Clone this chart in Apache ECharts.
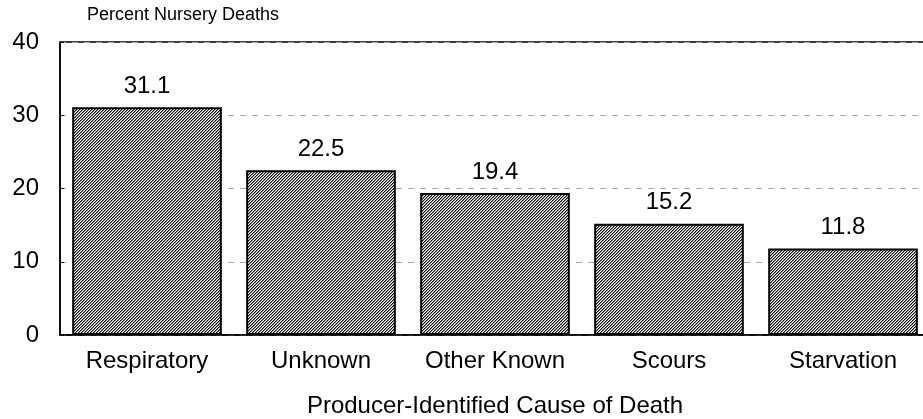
<!DOCTYPE html>
<html>
<head>
<meta charset="utf-8">
<script src="https://cdn.jsdelivr.net/npm/echarts@6/dist/echarts.min.js"></script>
<style>
  html, body { margin: 0; padding: 0; background: #fff; }
  #chart { width: 923px; height: 419px; }
</style>
</head>
<body>
<div id="chart"></div>
<script>
var categories = ['Respiratory', 'Unknown', 'Other Known', 'Scours', 'Starvation'];
var deathPercent = [31.1, 22.5, 19.4, 15.2, 11.8];
var yTicks = [0, 10, 20, 30, 40];

(function() {
  var font = "'Liberation Sans', Arial, sans-serif";

  // diagonal hatch tile, like the printed fill
  var tile = document.createElement('canvas');
  tile.width = 3;
  tile.height = 3;
  var ctx = tile.getContext('2d');
  ctx.fillStyle = '#fff';
  ctx.fillRect(0, 0, 3, 3);
  ctx.fillStyle = '#111';
  ctx.fillRect(0, 2, 1, 1);
  ctx.fillRect(1, 1, 1, 1);
  ctx.fillRect(2, 0, 1, 1);
  ctx.fillStyle = '#8a8a8a';
  ctx.fillRect(0, 0, 1, 1);
  ctx.fillRect(1, 2, 1, 1);
  ctx.fillRect(2, 1, 1, 1);

  var chart = echarts.init(document.getElementById('chart'), null, { renderer: 'canvas' });
  chart.setOption({
    animation: false,
    textStyle: { fontFamily: font },
    title: {
      text: 'Percent Nursery Deaths',
      left: 87,
      top: 6,
      padding: 0,
      textStyle: { fontFamily: font, fontSize: 18, fontWeight: 'normal', color: '#000' }
    },
    grid: {
      left: 60,
      top: 42,
      width: 870,
      bottom: 84,
      outerBoundsMode: 'none',
      containLabel: false,
      show: true,
      borderColor: '#000',
      borderWidth: 1.5
    },
    xAxis: {
      type: 'category',
      data: categories,
      name: 'Producer-Identified Cause of Death',
      nameLocation: 'middle',
      nameGap: 59,
      nameTextStyle: { fontFamily: font, fontSize: 24, color: '#000' },
      axisLine: { lineStyle: { color: '#000', width: 1.5 } },
      axisTick: { show: false },
      axisLabel: { color: '#000', fontSize: 24, margin: 14, interval: 0 }
    },
    yAxis: {
      type: 'value',
      min: yTicks[0],
      max: yTicks[yTicks.length - 1],
      interval: 10,
      axisLine: { show: true, lineStyle: { color: '#000', width: 1.5 } },
      axisTick: { show: true, inside: true, length: 4, lineStyle: { color: '#000' } },
      axisLabel: { color: '#000', fontSize: 24, margin: 21 },
      splitLine: { lineStyle: { color: '#aaa', width: 1, type: [6, 6] } }
    },
    series: [{
      type: 'bar',
      data: deathPercent,
      barCategoryGap: '14%',
      itemStyle: {
        color: { image: tile, repeat: 'repeat' },
        borderColor: '#000',
        borderWidth: 2
      },
      label: {
        show: true,
        position: 'top',
        distance: 9,
        color: '#000',
        fontSize: 24,
        fontFamily: font
      }
    }]
  });
})();
</script>
</body>
</html>
